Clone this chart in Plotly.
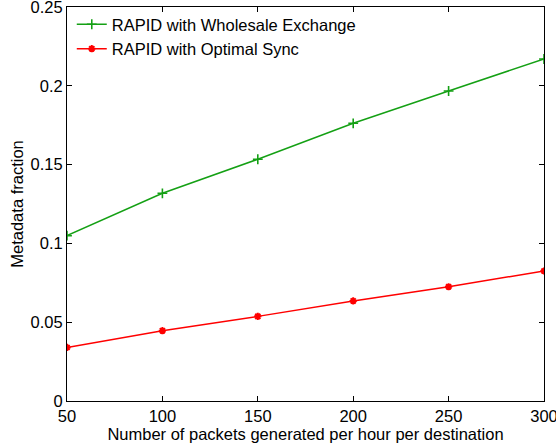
import plotly.graph_objects as go

packets = [50, 100, 150, 200, 250, 300]
wholesale = [0.1049, 0.1318, 0.1534, 0.1762, 0.1967, 0.217]
optimal = [0.034, 0.0446, 0.0537, 0.0635, 0.0725, 0.0825]
xticks = [50, 100, 150, 200, 250, 300]
yticks = [0, 0.05, 0.1, 0.15, 0.2, 0.25]
yticklabels = ["0", "0.05", "0.1", "0.15", "0.2", "0.25"]

FONT = "Liberation Sans, Arial, Helvetica, sans-serif"
FS = 16.5
GREEN = "#14a014"
RED = "#ff0000"

fig = go.Figure()
fig.add_trace(go.Scatter(
    x=packets, y=wholesale, mode="lines+markers",
    name="RAPID with Wholesale Exchange",
    line=dict(color=GREEN, width=1.5),
    marker=dict(symbol="cross-thin", size=7, line=dict(color=GREEN, width=1.6)),
))
fig.add_trace(go.Scatter(
    x=packets, y=optimal, mode="lines+markers",
    name="RAPID with Optimal Sync",
    line=dict(color=RED, width=1.5),
    marker=dict(symbol="asterisk-open", size=6, line=dict(color=RED, width=2)),
))

axis_common = dict(
    showgrid=False, zeroline=False, showline=True, linecolor="black", linewidth=1,
    mirror="ticks", ticks="inside", ticklen=5, tickcolor="black", automargin=False,
    ticklabeloverflow="allow",
    tickfont=dict(family=FONT, size=FS, color="black"),
)
fig.update_xaxes(range=[50, 300], tickvals=xticks, **axis_common,
                 title=dict(text="Number of packets generated per hour per destination",
                            font=dict(family=FONT, size=FS, color="black"),
                            standoff=0))
fig.update_yaxes(range=[0, 0.25], tickvals=yticks, ticktext=yticklabels, **axis_common,
                 title=dict(text="Metadata fraction",
                            font=dict(family=FONT, size=FS, color="black"),
                            standoff=2))
fig.update_layout(
    width=556, height=447,
    margin=dict(l=67, r=12, t=7, b=46),
    paper_bgcolor="white", plot_bgcolor="white",
    showlegend=True,
    legend=dict(x=0.01, y=1.0, xanchor="left", yanchor="top",
                bgcolor="rgba(255,255,255,0)", borderwidth=0,
                font=dict(family=FONT, size=FS, color="black"),
                tracegroupgap=0, itemwidth=30),
)
fig.write_html("out.html",
               config={"displayModeBar": False},
               post_script="document.body.style.margin='0';document.body.style.padding='0';")
